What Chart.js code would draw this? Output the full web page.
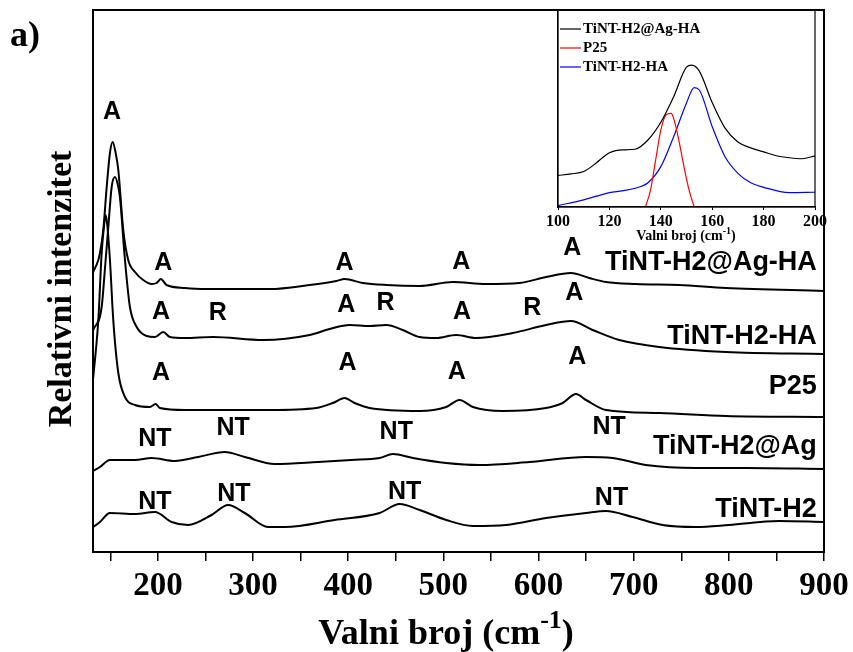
<!DOCTYPE html>
<html>
<head>
<meta charset="utf-8">
<script src="https://cdn.jsdelivr.net/npm/chart.js@4.4.1/dist/chart.umd.min.js"></script>
<style>
  body { margin: 0; background: #fff; }
  #wrap { position: relative; width: 853px; height: 652px; }
  #mainChart { position: absolute; left: 0; top: 0; }
  #insetChart { position: absolute; left: 520px; top: 0; }
</style>
</head>
<body>
<div id="wrap">
  <canvas id="mainChart" width="853" height="652"></canvas>
  <canvas id="insetChart" width="310" height="250"></canvas>
</div>
<script>
// Raman spectra, stacked (intensity in arbitrary units)
const agHaWave = [132, 137.4, 139.1, 142.6, 146.2, 149.6, 152.5, 155.6, 158.4, 163.6, 168.8, 175.9, 184.6, 193.4, 198.6, 203.2, 209.1, 228.3, 249.3, 317.5, 359.5, 387.5, 396.2, 415.4, 440, 475, 509.9, 544.9, 579.9, 607.9, 634.1, 653.3, 670.8, 702.3, 747.7, 796.8, 900];
const agHaInt = [280, 292, 299, 322, 365, 399, 410, 399, 382, 322, 292, 280, 272, 268, 269, 273, 267, 264, 263, 263, 267, 271, 273, 269, 267, 266, 270, 268, 269, 275, 279, 274, 270, 268, 267, 264, 261];

const h2HaWave = [132, 140.9, 144.5, 147.9, 151.4, 154.9, 158.4, 160.1, 165.4, 170.6, 177.7, 188.1, 196.9, 205.6, 212.6, 228.3, 258, 310.5, 359.5, 380.5, 401.5, 422.5, 440, 457.4, 475, 492.5, 513.4, 534.4, 572.8, 607.9, 634.1, 656.8, 684.8, 726.8, 796.8, 900];
const h2HaInt = [222, 245, 285, 325, 365, 375, 365, 355, 292, 245, 225, 216, 215, 220, 215, 214, 215, 212, 217, 223, 227, 226, 227, 222, 215, 214, 217, 214, 219, 227, 231, 222, 212, 205, 200, 198];

const p25Wave = [132, 137.4, 140.9, 143.5, 145.1, 146.8, 149.6, 153.1, 158.4, 165.4, 175.9, 191.6, 197.6, 202.1, 228.3, 317.5, 366.5, 383.9, 396.2, 406.7, 422.5, 475, 503, 517, 531, 562.5, 607.9, 625.3, 639.4, 649.9, 670.9, 726.8, 796.8, 900];
const p25Int = [174, 232, 299, 327, 337, 327, 292, 232, 179, 155, 147, 145, 148, 144, 142, 142, 144, 149, 154, 149, 144, 141, 145, 152, 145, 141, 144, 149, 158, 152, 142, 139, 136, 135];

const agWave = [132, 139.1, 149.6, 175.9, 193.4, 217.8, 242.3, 270.3, 291.3, 322.8, 368.2, 403.3, 433, 447, 468, 503, 538, 590.4, 649.9, 677.8, 712.8, 765.3, 817.7, 900];
const agInt = [81, 85, 92, 92, 94, 91, 95, 100, 95, 88, 90, 92, 94, 98, 94, 89, 87, 90, 95, 94, 87, 84, 84, 83];

const h2Wave = [132, 139.1, 149.6, 175.9, 196.9, 214.4, 231.8, 256.4, 273.8, 291.3, 315.8, 333.3, 385.7, 433, 454, 475, 503, 530.9, 565.9, 607.9, 649.9, 670.9, 698.8, 730.3, 765.3, 800.2, 852.6, 900];
const h2Int = [25, 30, 39, 38, 40, 30, 27, 37, 47, 39, 25, 25, 32, 39, 48, 42, 32, 26, 27, 34, 39, 41, 35, 27, 25, 27, 31, 30];

// peak assignments (A = anatase, R = rutile, NT = nanotube)
const peakText = ['A', 'A', 'A', 'A', 'A', 'A', 'R', 'A', 'R', 'A', 'R', 'A', 'A', 'A', 'A', 'A', 'NT', 'NT', 'NT', 'NT', 'NT', 'NT', 'NT', 'NT'];
const peakWave = [151.7, 205.6, 396.2, 518.7, 635.5, 203.2, 263, 398, 439.3, 519.7, 593.5, 637.6, 203.2, 399.4, 514.1, 640.7, 196.9, 279, 450.5, 674.3, 196.9, 279.8, 459.2, 676.7];
const peakInt = [440, 289, 289, 290, 304, 240, 239, 247, 249, 240, 244, 259, 179, 189, 180, 195, 113, 124, 120, 125, 50, 58, 60, 54];

const seriesNames = ['TiNT-H2@Ag-HA', 'TiNT-H2-HA', 'P25', 'TiNT-H2@Ag', 'TiNT-H2'];
const nameInt = [289, 215, 165, 105, 42];

// inset: low wavenumber region
const insetAgHaWave = [100, 105, 110, 115, 117.5, 120, 122.5, 125, 130, 135, 140, 145, 150, 152, 155, 160, 165, 170, 175, 180, 185, 190, 195, 200];
const insetAgHaInt = [16, 16.8, 18, 22.5, 25.3, 27.5, 28.6, 29, 29.3, 34, 43, 56, 71, 72, 69, 53, 40, 33, 30, 28, 26, 25, 24.5, 26];
const insetP25Wave = [134, 136, 138, 140, 142, 144, 145, 147, 149, 151, 153];
const insetP25Int = [0, 8.6, 23.9, 39, 46.7, 47.5, 45, 34, 20.5, 8.6, 0];
const insetH2HaWave = [100, 110, 115, 120, 125, 130, 135, 140, 145, 150, 153, 155, 160, 165, 170, 175, 180, 190, 200];
const insetH2HaInt = [0.7, 3.6, 5.5, 7.3, 8.2, 9.5, 12.3, 20.5, 35.7, 52.8, 60.6, 59.4, 40.8, 25.5, 17.1, 12.3, 10, 7.3, 7.5];
const insetNames = ['TiNT-H2@Ag-HA', 'P25', 'TiNT-H2-HA'];
const insetColors = ['#000000', '#ff0000', '#0000ff'];

const serif = '"Liberation Serif", "Times New Roman", serif';
const sans = '"Liberation Sans", Arial, sans-serif';

function toPoints(xs, ys) {
  return xs.map((x, i) => ({ x: x, y: ys[i] }));
}

function line(xs, ys, color, width) {
  return {
    data: toPoints(xs, ys),
    borderColor: color,
    borderWidth: width,
    pointRadius: 0,
    cubicInterpolationMode: 'monotone',
    fill: false
  };
}

function drawTitle(ctx, cx, baseline, big, small, text) {
  ctx.save();
  ctx.fillStyle = '#000';
  ctx.textAlign = 'left';
  ctx.textBaseline = 'alphabetic';
  ctx.font = 'bold ' + big + 'px ' + serif;
  const w1 = ctx.measureText(text).width;
  const w3 = ctx.measureText(')').width;
  ctx.font = 'bold ' + small + 'px ' + serif;
  const w2 = ctx.measureText('-1').width;
  let x = cx - (w1 + w2 + w3) / 2;
  ctx.font = 'bold ' + big + 'px ' + serif;
  ctx.fillText(text, x, baseline);
  x += w1;
  ctx.font = 'bold ' + small + 'px ' + serif;
  ctx.fillText('-1', x, baseline - big * 0.45);
  x += w2;
  ctx.font = 'bold ' + big + 'px ' + serif;
  ctx.fillText(')', x, baseline);
  ctx.restore();
}

const framePlugin = {
  id: 'frame',
  afterDraw(chart) {
    const a = chart.chartArea, ctx = chart.ctx;
    ctx.save();
    ctx.strokeStyle = '#000';
    ctx.lineWidth = chart.canvas.id === 'mainChart' ? 2 : 1.2;
    ctx.strokeRect(a.left, a.top, a.right - a.left, a.bottom - a.top);
    ctx.restore();
  }
};

const mainText = {
  id: 'mainText',
  afterDraw(chart) {
    const ctx = chart.ctx, xs = chart.scales.x, ys = chart.scales.y;
    ctx.save();
    ctx.fillStyle = '#000';
    ctx.textBaseline = 'middle';
    ctx.textAlign = 'center';
    ctx.font = 'bold 25px ' + sans;
    peakText.forEach((t, i) => {
      ctx.fillText(t, xs.getPixelForValue(peakWave[i]), ys.getPixelForValue(peakInt[i]));
    });
    ctx.textAlign = 'right';
    ctx.font = 'bold 27px ' + sans;
    seriesNames.forEach((t, i) => {
      ctx.fillText(t, xs.getPixelForValue(892.5), ys.getPixelForValue(nameInt[i]));
    });
    // y title
    ctx.save();
    ctx.translate(62, 289);
    ctx.rotate(-Math.PI / 2);
    ctx.textAlign = 'center';
    ctx.font = 'bold 34px ' + serif;
    ctx.fillText('Relativni intenzitet', 0, 0);
    ctx.restore();
    // panel letter
    ctx.textAlign = 'left';
    ctx.textBaseline = 'alphabetic';
    ctx.font = 'bold 36px ' + serif;
    ctx.fillText('a)', 10, 46);
    ctx.restore();
    drawTitle(ctx, 446, 644, 36, 26, 'Valni broj (cm');
  }
};

const insetText = {
  id: 'insetText',
  afterDraw(chart) {
    const ctx = chart.ctx;
    ctx.save();
    ctx.textBaseline = 'middle';
    ctx.textAlign = 'left';
    ctx.font = 'bold 15px ' + serif;
    insetNames.forEach((t, i) => {
      const y = 29 + i * 19;
      ctx.strokeStyle = insetColors[i];
      ctx.lineWidth = 1.2;
      ctx.beginPath();
      ctx.moveTo(40, y);
      ctx.lineTo(61, y);
      ctx.stroke();
      ctx.fillStyle = '#000';
      ctx.fillText(t, 63, y);
    });
    ctx.restore();
    drawTitle(ctx, 166, 240, 14, 10, 'Valni broj (cm');
  }
};

new Chart(document.getElementById('mainChart'), {
  type: 'line',
  data: {
    datasets: [
      line(agHaWave, agHaInt, '#000', 2),
      line(h2HaWave, h2HaInt, '#000', 2),
      line(p25Wave, p25Int, '#000', 2),
      line(agWave, agInt, '#000', 2),
      line(h2Wave, h2Int, '#000', 2)
    ]
  },
  options: {
    responsive: false,
    animation: false,
    layout: { padding: { top: 10, right: 29, left: 0, bottom: 0 } },
    plugins: { legend: { display: false }, tooltip: { enabled: false } },
    scales: {
      x: {
        type: 'linear',
        min: 131.8,
        max: 900,
        afterFit(s) { s.height = 100; s.paddingLeft = 0; s.paddingRight = 0; },
        border: { color: '#000', width: 2 },
        grid: { drawOnChartArea: false, color: '#000', tickLength: 9, lineWidth: 1.5 },
        ticks: {
          stepSize: 50,
          includeBounds: false,
          autoSkip: false,
          maxRotation: 0,
          color: '#000',
          padding: 6,
          font: { family: serif, size: 33, weight: 'bold' },
          callback: v => (v % 100 === 0 ? v : '')
        }
      },
      y: {
        min: 0,
        max: 542,
        afterFit(s) { s.width = 93; },
        border: { color: '#000', width: 2 },
        grid: { display: false },
        ticks: { display: false }
      }
    }
  },
  plugins: [framePlugin, mainText]
});

new Chart(document.getElementById('insetChart'), {
  type: 'line',
  data: {
    datasets: [
      line(insetAgHaWave, insetAgHaInt, insetColors[0], 1.2),
      line(insetP25Wave, insetP25Int, insetColors[1], 1.2),
      line(insetH2HaWave, insetH2HaInt, insetColors[2], 1.2)
    ]
  },
  options: {
    responsive: false,
    animation: false,
    layout: { padding: { top: 10, right: 15, left: 0, bottom: 0 } },
    plugins: { legend: { display: false }, tooltip: { enabled: false } },
    scales: {
      x: {
        type: 'linear',
        min: 100,
        max: 200,
        afterFit(s) { s.height = 43; s.paddingLeft = 0; s.paddingRight = 0; },
        border: { color: '#000', width: 1.2 },
        grid: { drawOnChartArea: false, color: '#000', tickLength: 3 },
        ticks: {
          stepSize: 20,
          maxRotation: 0,
          color: '#000',
          padding: 2,
          font: { family: serif, size: 16, weight: 'bold' }
        }
      },
      y: {
        min: 0,
        max: 100,
        afterFit(s) { s.width = 38; },
        border: { color: '#000', width: 1.2 },
        grid: { display: false },
        ticks: { display: false }
      }
    }
  },
  plugins: [framePlugin, insetText]
});
</script>
</body>
</html>
